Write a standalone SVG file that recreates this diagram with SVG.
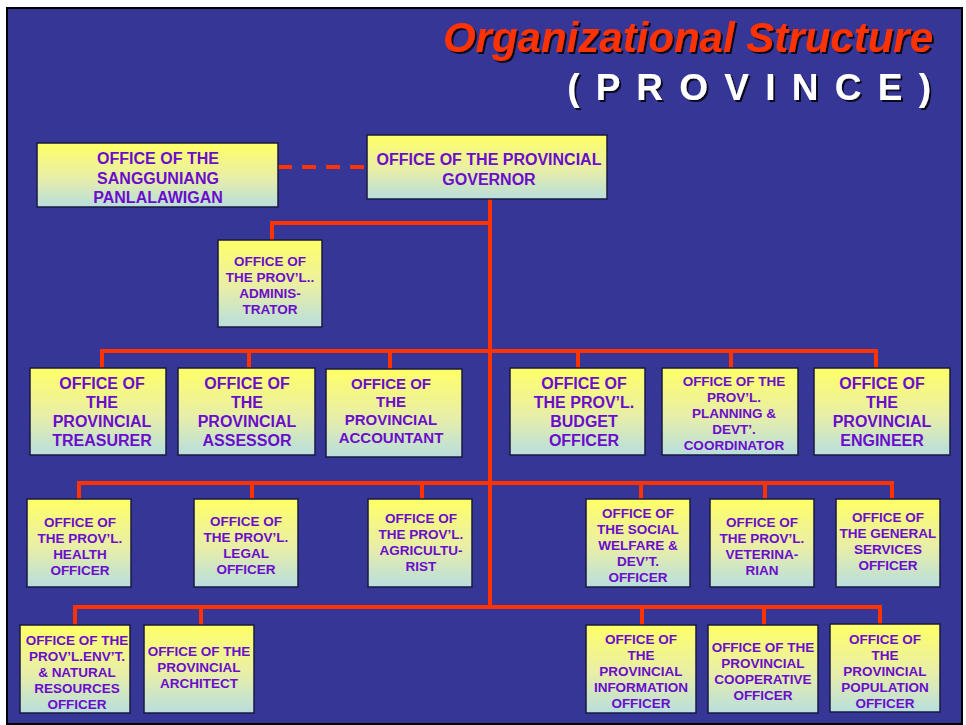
<svg xmlns="http://www.w3.org/2000/svg" width="966" height="725" viewBox="0 0 966 725">
<defs>
<linearGradient id="g" x1="0" y1="0" x2="0" y2="1">
<stop offset="0" stop-color="#FFFF66"/>
<stop offset="0.55" stop-color="#E8EEA8"/>
<stop offset="1" stop-color="#B8DEDE"/>
</linearGradient>
<filter id="ts" x="-5%" y="-20%" width="110%" height="140%">
<feDropShadow dx="2" dy="2" stdDeviation="0.6" flood-color="#000" flood-opacity="0.8"/>
</filter>
</defs>
<style>
.box{fill:url(#g);stroke:#1a1a40;stroke-width:1.5}
.t{font-family:"Liberation Sans",Arial,sans-serif;font-weight:bold;fill:#6A0DCC;text-anchor:middle}
.l{fill:none;stroke:#FF3300;stroke-width:4}
.s13{font-size:13.5px}.s15{font-size:15px}.s16{font-size:16px}
</style>
<rect x="0" y="0" width="966" height="725" fill="#fff"/>
<rect x="7" y="8" width="955" height="716" fill="#363696" stroke="#000" stroke-width="2"/>
<g id="title" filter="url(#ts)">
<text x="933" y="52" text-anchor="end" font-family="Liberation Sans,Arial,sans-serif" font-weight="bold" font-style="italic" font-size="42" fill="#FF3300">Organizational Structure</text>
<text x="934" y="100" text-anchor="end" font-family="Liberation Sans,Arial,sans-serif" font-weight="bold" font-size="37" fill="#fff" letter-spacing="3">( P R O V I N C E )</text>
</g>
<g id="connectors">
<line class="l" x1="278" y1="167" x2="367" y2="167" stroke-dasharray="14,10"/>
<polyline class="l" points="490,199 490,609"/>
<polyline class="l" points="272,240 272,223 490,223"/>
<polyline class="l" points="102,368 102,351 876,351 876,368"/>
<line class="l" x1="249" y1="351" x2="249" y2="368"/>
<line class="l" x1="390" y1="351" x2="390" y2="369"/>
<line class="l" x1="578" y1="351" x2="578" y2="368"/>
<line class="l" x1="731" y1="351" x2="731" y2="368"/>
<polyline class="l" points="79,499 79,483 892,483 892,499"/>
<line class="l" x1="252" y1="483" x2="252" y2="499"/>
<line class="l" x1="422" y1="483" x2="422" y2="499"/>
<line class="l" x1="641" y1="483" x2="641" y2="499"/>
<line class="l" x1="765" y1="483" x2="765" y2="499"/>
<polyline class="l" points="75,625 75,607 880,607 880,624"/>
<line class="l" x1="201" y1="607" x2="201" y2="625"/>
<line class="l" x1="642" y1="607" x2="642" y2="625"/>
<line class="l" x1="764" y1="607" x2="764" y2="625"/>
</g>
<g id="sangguniang"><rect class="box" x="37" y="143" width="241" height="64"/>
<text class="t s16"><tspan x="158" y="164">OFFICE OF THE</tspan><tspan x="158" y="184">SANGGUNIANG</tspan><tspan x="158" y="203">PANLALAWIGAN</tspan></text></g>
<g id="governor"><rect class="box" x="367" y="135" width="240" height="64"/>
<text class="t s16"><tspan x="489" y="165">OFFICE OF THE PROVINCIAL</tspan><tspan x="489" y="185">GOVERNOR</tspan></text></g>
<g id="administrator"><rect class="box" x="218" y="240" width="104" height="87"/>
<text class="t s13"><tspan x="270" y="266">OFFICE OF</tspan><tspan x="270" y="282">THE PROV’L..</tspan><tspan x="270" y="298">ADMINIS-</tspan><tspan x="270" y="314">TRATOR</tspan></text></g>
<g id="treasurer"><rect class="box" x="30" y="368" width="136" height="87"/>
<text class="t s16"><tspan x="102" y="389">OFFICE OF</tspan><tspan x="102" y="408">THE</tspan><tspan x="102" y="427">PROVINCIAL</tspan><tspan x="102" y="446">TREASURER</tspan></text></g>
<g id="assessor"><rect class="box" x="178" y="368" width="137" height="87"/>
<text class="t s16"><tspan x="247" y="389">OFFICE OF</tspan><tspan x="247" y="408">THE</tspan><tspan x="247" y="427">PROVINCIAL</tspan><tspan x="247" y="446">ASSESSOR</tspan></text></g>
<g id="accountant"><rect class="box" x="326" y="369" width="136" height="88"/>
<text class="t s15"><tspan x="391" y="389">OFFICE OF</tspan><tspan x="391" y="407">THE</tspan><tspan x="391" y="425">PROVINCIAL</tspan><tspan x="391" y="443">ACCOUNTANT</tspan></text></g>
<g id="budget"><rect class="box" x="510" y="368" width="135" height="87"/>
<text class="t s16"><tspan x="584" y="389">OFFICE OF</tspan><tspan x="584" y="408">THE PROV’L.</tspan><tspan x="584" y="427">BUDGET</tspan><tspan x="584" y="446">OFFICER</tspan></text></g>
<g id="planning"><rect class="box" x="662" y="368" width="136" height="87"/>
<text class="t s13"><tspan x="734" y="386">OFFICE OF THE</tspan><tspan x="734" y="402">PROV’L.</tspan><tspan x="734" y="418">PLANNING &amp;</tspan><tspan x="734" y="434">DEVT’.</tspan><tspan x="734" y="450">COORDINATOR</tspan></text></g>
<g id="engineer"><rect class="box" x="814" y="368" width="136" height="87"/>
<text class="t s16"><tspan x="882" y="389">OFFICE OF</tspan><tspan x="882" y="408">THE</tspan><tspan x="882" y="427">PROVINCIAL</tspan><tspan x="882" y="446">ENGINEER</tspan></text></g>
<g id="health"><rect class="box" x="27" y="499" width="104" height="88"/>
<text class="t s13"><tspan x="80" y="527">OFFICE OF</tspan><tspan x="80" y="543">THE PROV’L.</tspan><tspan x="80" y="559">HEALTH</tspan><tspan x="80" y="575">OFFICER</tspan></text></g>
<g id="legal"><rect class="box" x="194" y="499" width="104" height="88"/>
<text class="t s13"><tspan x="246" y="526">OFFICE OF</tspan><tspan x="246" y="542">THE PROV’L.</tspan><tspan x="246" y="558">LEGAL</tspan><tspan x="246" y="574">OFFICER</tspan></text></g>
<g id="agriculturist"><rect class="box" x="368" y="499" width="104" height="88"/>
<text class="t s13"><tspan x="421" y="523">OFFICE OF</tspan><tspan x="421" y="539">THE PROV’L.</tspan><tspan x="421" y="555">AGRICULTU-</tspan><tspan x="421" y="571">RIST</tspan></text></g>
<g id="social"><rect class="box" x="586" y="499" width="104" height="88"/>
<text class="t s13"><tspan x="638" y="518">OFFICE OF</tspan><tspan x="638" y="534">THE SOCIAL</tspan><tspan x="638" y="550">WELFARE &amp;</tspan><tspan x="638" y="566">DEV’T.</tspan><tspan x="638" y="582">OFFICER</tspan></text></g>
<g id="veterinarian"><rect class="box" x="710" y="499" width="104" height="88"/>
<text class="t s13"><tspan x="762" y="527">OFFICE OF</tspan><tspan x="762" y="543">THE PROV’L.</tspan><tspan x="762" y="559">VETERINA-</tspan><tspan x="762" y="575">RIAN</tspan></text></g>
<g id="general-services"><rect class="box" x="836" y="499" width="104" height="88"/>
<text class="t s13"><tspan x="888" y="522">OFFICE OF</tspan><tspan x="888" y="538">THE GENERAL</tspan><tspan x="888" y="554">SERVICES</tspan><tspan x="888" y="570">OFFICER</tspan></text></g>
<g id="environment"><rect class="box" x="20" y="625" width="110" height="88"/>
<text class="t s13"><tspan x="77" y="645">OFFICE OF THE</tspan><tspan x="77" y="661">PROV’L.ENV’T.</tspan><tspan x="77" y="677">&amp; NATURAL</tspan><tspan x="77" y="693">RESOURCES</tspan><tspan x="77" y="709">OFFICER</tspan></text></g>
<g id="architect"><rect class="box" x="144" y="625" width="110" height="88"/>
<text class="t s13"><tspan x="199" y="656">OFFICE OF THE</tspan><tspan x="199" y="672">PROVINCIAL</tspan><tspan x="199" y="688">ARCHITECT</tspan></text></g>
<g id="information"><rect class="box" x="586" y="625" width="110" height="88"/>
<text class="t s13"><tspan x="641" y="644">OFFICE OF</tspan><tspan x="641" y="660">THE</tspan><tspan x="641" y="676">PROVINCIAL</tspan><tspan x="641" y="692">INFORMATION</tspan><tspan x="641" y="708">OFFICER</tspan></text></g>
<g id="cooperative"><rect class="box" x="708" y="625" width="110" height="88"/>
<text class="t s13"><tspan x="763" y="652">OFFICE OF THE</tspan><tspan x="763" y="668">PROVINCIAL</tspan><tspan x="763" y="684">COOPERATIVE</tspan><tspan x="763" y="700">OFFICER</tspan></text></g>
<g id="population"><rect class="box" x="830" y="624" width="110" height="88"/>
<text class="t s13"><tspan x="885" y="644">OFFICE OF</tspan><tspan x="885" y="660">THE</tspan><tspan x="885" y="676">PROVINCIAL</tspan><tspan x="885" y="692">POPULATION</tspan><tspan x="885" y="708">OFFICER</tspan></text></g>
</svg>
